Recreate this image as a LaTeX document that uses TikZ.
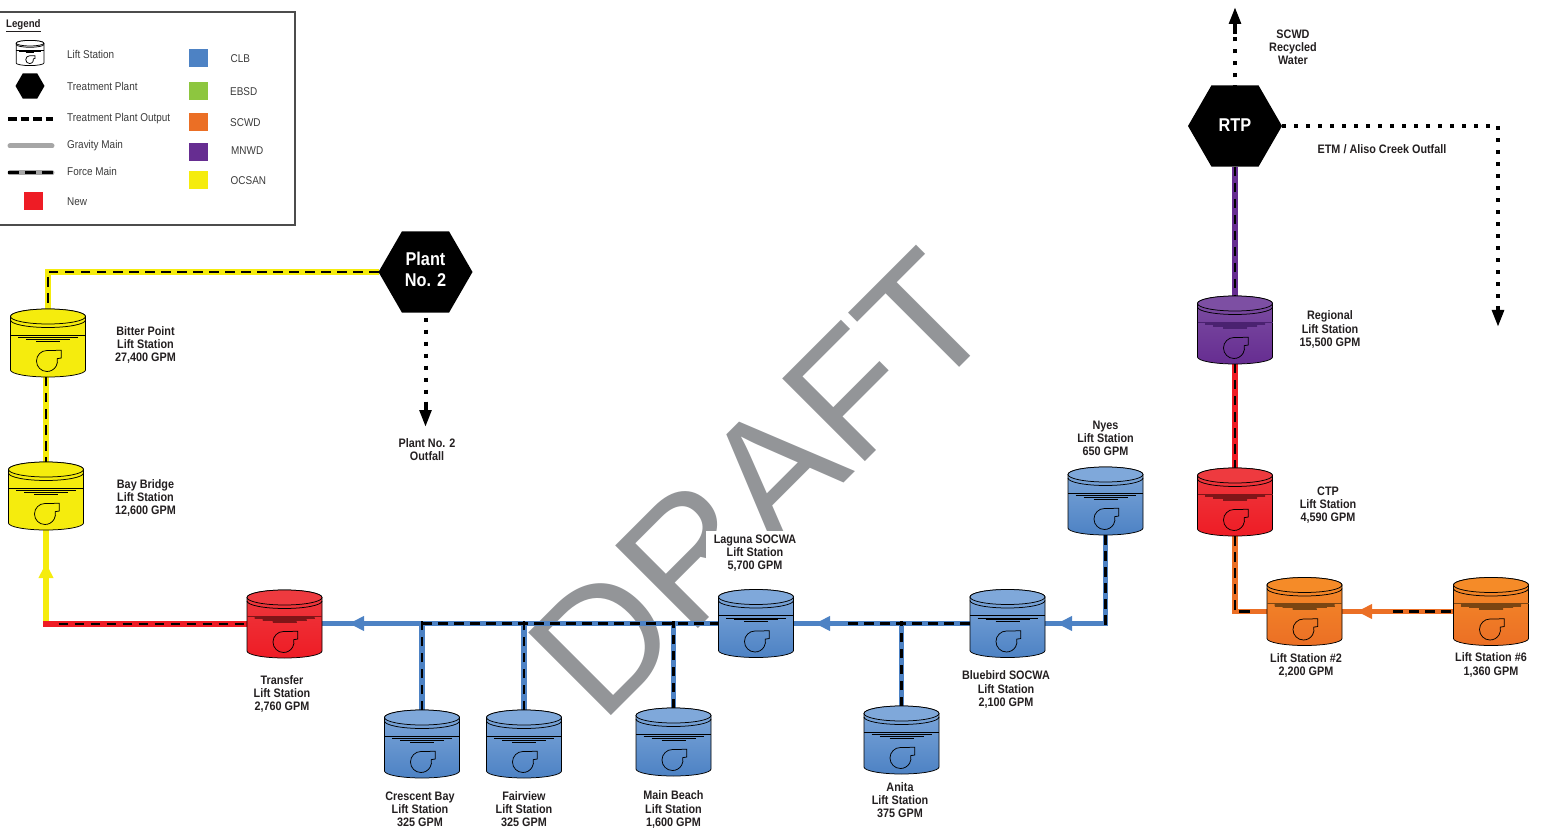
\documentclass[tikz,border=0pt]{standalone}
\usepackage{fontspec}
\setmainfont[FakeStretch=0.88]{Liberation Sans}
\newfontfamily\draftfont{Liberation Sans}
\usetikzlibrary{shapes.geometric,arrows.meta}
\definecolor{pblue}{HTML}{4D82C4}
\definecolor{pyellow}{HTML}{F5EC0D}
\definecolor{pred}{HTML}{EE1C25}
\definecolor{porange}{HTML}{EB6F25}
\definecolor{ppurple}{HTML}{662D91}
\definecolor{pgreen}{HTML}{8DC63F}
\definecolor{bluetop}{HTML}{7FA8DA}
\definecolor{redtop}{HTML}{EE3A3F}
\definecolor{orangetop}{HTML}{F58B28}
\definecolor{purpletop}{HTML}{7D4FA3}
\definecolor{reddark}{HTML}{7F1518}
\definecolor{orangedark}{HTML}{7A4512}
\definecolor{purpledark}{HTML}{4A2270}
\definecolor{draftgray}{HTML}{939598}
\definecolor{inktext}{HTML}{231F20}
\definecolor{legendtext}{HTML}{3A3A3A}
\tikzset{
  pipe/.style={line width=5.8pt,draw=#1},
  pipetip/.style={line width=5.8pt,draw=#1,-{Triangle[length=15pt,width=14pt]}},
  fmdash/.style={line width=2.4pt,draw=black,dash pattern=on 9.5pt off 6.5pt},
  dotline/.style={line width=4pt,draw=black,dash pattern=on 4pt off 8pt},
  stemtip/.style={line width=4pt,draw=black,-{Triangle[length=17pt,width=11.5pt]}},
  stationbox/.style={minimum width=75pt,minimum height=68pt,inner sep=0pt,outer sep=0pt},
  lbl/.style={align=center,inner sep=0pt,text=inktext,font=\bfseries\fontsize{12.3}{13.1}\selectfont},
  legtxt/.style={anchor=west,inner sep=0pt,text height=8pt,text depth=0pt,text=legendtext,font=\fontsize{11.3}{13}\selectfont},
  hexa/.style={regular polygon,regular polygon sides=6,minimum size=94pt,inner sep=0pt,outer sep=0pt,fill=black,text=white,align=center,font=\bfseries\fontsize{18.5}{21}\selectfont},
  swatch/.style={minimum width=19pt,minimum height=18pt,inner sep=0pt,outer sep=0pt}
}
\newcommand\stnart[4]{%
  \path[draw=black,line width=.75pt,top color=#1,bottom color=#2] (-37.5,-26.5) arc[start angle=180,end angle=0,x radius=37.5pt,y radius=7.5pt] -- (37.5,27) arc[start angle=360,end angle=180,x radius=37.5pt,y radius=7pt] -- cycle;
  \draw[line width=.75pt,fill=#1] (0,-26.5) ellipse[x radius=37.5pt,y radius=7.5pt];
  \draw[line width=.75pt] (-37.5,-23) arc[start angle=180,end angle=360,x radius=37.5pt,y radius=7.5pt];
  \fill[#3,fill opacity=#4] (-30,-7.7) -- (30,-7.7) -- (30,-5.3) -- (22,-5.3) -- (22,-3.7) -- (12,-3.7) -- (12,-2) -- (-12,-2) -- (-12,-3.7) -- (-22,-3.7) -- (-22,-5.3) -- (-30,-5.3) -- cycle;
  \draw[#3,line width=.75pt] (-37.5,-7.7) -- (37.5,-7.7) (-30,-5.3) -- (30,-5.3) (-22,-3.7) -- (22,-3.7) (-12,-2) -- (12,-2);
  \draw[line width=.75pt] (9,15.7) -- (13.3,15) -- (13.3,7.3) -- (-1,7.5) arc[start angle=90,end angle=373,radius=10.5pt];
}
\begin{document}
\begin{tikzpicture}[x=1pt,y=-1pt]
\useasboundingbox (0,0) rectangle (1543,834);
% watermark
\node[rotate=45,anchor=base west,inner sep=0pt,text=draftgray,font=\draftfont\fontsize{170}{170}\selectfont] (draft) at (601.6,725.4) {DRAFT};
% station anchors first, so pipes can be drawn beneath the artwork
\node[stationbox] (bitter) at (48,343) {};
\node[stationbox] (bay) at (46,496) {};
\node[stationbox] (transfer) at (284.5,624) {};
\node[stationbox] (crescent) at (422,744) {};
\node[stationbox] (fairview) at (524,744) {};
\node[stationbox] (mainbeach) at (673.5,742) {};
\node[stationbox] (laguna) at (756,623.5) {};
\node[stationbox] (bluebird) at (1007.5,623.5) {};
\node[stationbox] (anita) at (901.5,740) {};
\node[stationbox] (nyes) at (1105.5,501) {};
\node[stationbox] (regional) at (1235,330) {};
\node[stationbox] (ctp) at (1235,502) {};
\node[stationbox] (lstwo) at (1304.5,611.5) {};
\node[stationbox] (lssix) at (1491,611.5) {};
\node[hexa] (plant) at (425.5,272) {\raisebox{2pt}{\begin{tabular}{@{}c@{}}Plant\\No. 2\end{tabular}}};
\node[hexa] (rtp) at (1235,126) {\raisebox{2pt}{RTP}};
% yellow section
\draw[pipe=pyellow] (plant.west) -- (bitter.north |- plant.west) -- (bitter.north);
\draw[fmdash] (plant.west) -- (bitter.north |- plant.west) -- (bitter.north);
\draw[pipe=pyellow] (bay.north |- bitter.south) -- (bay.north);
\draw[fmdash] (bay.north |- bitter.south) -- (bay.north);
\draw[pipe=pyellow] (bay.south) -- (bay.south |- transfer.west);
\coordinate (bayarrowbase) at (46,578);
\coordinate (bayarrowtip) at (46,563);
\draw[pipetip=pyellow] (bayarrowbase) -- (bayarrowtip);
\draw[pipe=pred,line cap=rect] (transfer.west) -- (bay.south |- transfer.west);
\coordinate (reddashstart) at (58.7,624);
\draw[fmdash] (reddashstart) -- (transfer.west);
% blue main
\coordinate (blueonetip) at (349,623.5);
\coordinate (blueonebase) at (364,623.5);
\coordinate (bluetwotip) at (815,623.5);
\coordinate (bluetwobase) at (830,623.5);
\coordinate (bluethreetip) at (1057,623.5);
\coordinate (bluethreebase) at (1072,623.5);
\coordinate (bluedashtwo) at (848,623.5);
\draw[pipe=pblue] (crescent.north) -- (crescent.north |- laguna.west);
\draw[pipe=pblue] (fairview.north) -- (fairview.north |- laguna.west);
\draw[pipe=pblue] (mainbeach.north) -- (mainbeach.north |- laguna.west);
\draw[pipe=pblue] (anita.north) -- (anita.north |- bluebird.west);
\draw[pipe=pblue] (laguna.west) -- (transfer.east |- laguna.west);
\draw[pipetip=pblue] (blueonebase) -- (blueonetip);
\draw[fmdash] (crescent.north |- laguna.west) -- (laguna.west);
\draw[fmdash] (crescent.north) -- ([yshift=3pt]crescent.north |- laguna.west);
\draw[fmdash] (fairview.north) -- ([yshift=3pt]fairview.north |- laguna.west);
\draw[fmdash] (mainbeach.north) -- ([yshift=3pt]mainbeach.north |- laguna.west);
\draw[pipe=pblue] (bluebird.west) -- (laguna.east);
\draw[pipetip=pblue] (bluetwobase) -- (bluetwotip);
\draw[fmdash] (bluedashtwo) -- (bluebird.west);
\draw[fmdash] (anita.north) -- ([yshift=3pt]anita.north |- bluebird.west);
\draw[pipe=pblue,line join=miter] (nyes.south) -- (nyes.south |- bluebird.east) -- (bluebird.east);
\draw[pipetip=pblue] (bluethreebase) -- (bluethreetip);
\draw[fmdash] (nyes.south) -- ([yshift=-3pt]nyes.south |- bluebird.east);
% right column
\draw[pipe=ppurple] (rtp.south) -- (regional.north);
\draw[fmdash] (rtp.south) -- (regional.north);
\draw[pipe=pred] (regional.south) -- (ctp.north);
\draw[fmdash] (regional.south) -- (ctp.north);
\draw[pipe=porange] (ctp.south) -- (ctp.south |- lstwo.west) -- (lstwo.west);
\draw[fmdash] (ctp.south) -- ([yshift=-3pt]ctp.south |- lstwo.west);
\coordinate (lstwodash) at (1239,611.5);
\coordinate (lstwodashend) at (1250,611.5);
\draw[line width=2.4pt] (lstwodash) -- (lstwodashend);
\draw[pipe=porange] (lssix.west) -- (lstwo.east);
\coordinate (orangetip) at (1357,611.5);
\coordinate (orangebase) at (1373,611.5);
\coordinate (orangedash) at (1393,611.5);
\draw[pipetip=porange] (orangebase) -- (orangetip);
\draw[fmdash] (orangedash) -- (lssix.west);
% outputs
\coordinate (plantstem) at (425.5,402);
\coordinate (planttip) at (425.5,427);
\draw[dotline] ([yshift=7pt]plant.south) -- (plantstem);
\draw[stemtip] (plantstem) -- (planttip);
\coordinate (rtpstem) at (1235,34);
\coordinate (rtptip) at (1235,7);
\draw[dotline] ([yshift=-4pt]rtp.north) -- (rtpstem);
\draw[stemtip] (rtpstem) -- (rtptip);
\coordinate (etmstem) at (1498,306);
\coordinate (etmtip) at (1498,327);
\draw[dotline] (rtp.east) -- (etmstem |- rtp.east) -- (etmstem);
\draw[stemtip] (etmstem) -- (etmtip);
% station artwork
\begin{scope}[shift={(48,343)}]\stnart{pyellow}{pyellow}{black}{0}\end{scope}
\begin{scope}[shift={(46,496)}]\stnart{pyellow}{pyellow}{black}{0}\end{scope}
\begin{scope}[shift={(284.5,624)}]\stnart{redtop}{pred}{reddark}{1}\end{scope}
\begin{scope}[shift={(422,744)}]\stnart{bluetop}{pblue}{black}{0}\end{scope}
\begin{scope}[shift={(524,744)}]\stnart{bluetop}{pblue}{black}{0}\end{scope}
\begin{scope}[shift={(673.5,742)}]\stnart{bluetop}{pblue}{black}{0}\end{scope}
\begin{scope}[shift={(756,623.5)}]\stnart{bluetop}{pblue}{black}{0}\end{scope}
\begin{scope}[shift={(1007.5,623.5)}]\stnart{bluetop}{pblue}{black}{0}\end{scope}
\begin{scope}[shift={(901.5,740)}]\stnart{bluetop}{pblue}{black}{0}\end{scope}
\begin{scope}[shift={(1105.5,501)}]\stnart{bluetop}{pblue}{black}{0}\end{scope}
\begin{scope}[shift={(1235,330)}]\stnart{purpletop}{ppurple}{purpledark}{1}\end{scope}
\begin{scope}[shift={(1235,502)}]\stnart{redtop}{pred}{reddark}{1}\end{scope}
\begin{scope}[shift={(1304.5,611.5)}]\stnart{orangetop}{porange}{orangedark}{1}\end{scope}
\begin{scope}[shift={(1491,611.5)}]\stnart{orangetop}{porange}{orangedark}{1}\end{scope}
% labels
\node[lbl] (lbitter) at (145.5,345) {Bitter Point\\Lift Station\\27,400 GPM};
\node[lbl] (lbay) at (145.5,498) {Bay Bridge\\Lift Station\\12,600 GPM};
\node[lbl] (ltransfer) at (282,694) {Transfer\\Lift Station\\2,760 GPM};
\node[lbl] (lcrescent) at (420,809.5) {Crescent Bay\\Lift Station\\325 GPM};
\node[lbl] (lfairview) at (524,809.5) {Fairview\\Lift Station\\325 GPM};
\node[lbl] (lmainbeach) at (673.5,809.5) {Main Beach\\Lift Station\\1,600 GPM};
\node[lbl,fill=white,minimum width=98pt,minimum height=45pt] (llaguna) at (755,553.5) {Laguna SOCWA\\Lift Station\\5,700 GPM};
\node[lbl] (lbluebird) at (1006,689.5) {Bluebird SOCWA\\Lift Station\\2,100 GPM};
\node[lbl] (lanita) at (900,800) {Anita\\Lift Station\\375 GPM};
\node[lbl] (lnyes) at (1105.5,438.5) {Nyes\\Lift Station\\650 GPM};
\node[lbl] (lregional) at (1330,329.5) {Regional\\Lift Station\\15,500 GPM};
\node[lbl] (lctp) at (1328,505.5) {CTP\\Lift Station\\4,590 GPM};
\node[lbl] (llstwo) at (1306,665.5) {Lift Station \#2\\2,200 GPM};
\node[lbl] (llssix) at (1491,665) {Lift Station \#6\\1,360 GPM};
\node[lbl] (lscwd) at (1293,47) {SCWD\\Recycled\\Water};
\node[lbl] (letm) at (1382,149.5) {ETM / Aliso Creek Outfall};
\node[lbl] (loutfall) at (427,450) {Plant No. 2\\Outfall};
% legend
\node[draw=black!70,line width=1.1pt,minimum width=298pt,minimum height=213pt,inner sep=0pt,outer sep=0pt,anchor=north west] (legendbox) at (-3,12) {};
\node[anchor=west,inner sep=0pt,text=inktext,font=\bfseries\fontsize{11}{12}\selectfont] (legendtitle) at (6,26) {\underline{Legend}};
\begin{scope}[shift={(30,53)},scale=.37]\stnart{white}{white}{black}{0}\end{scope}
\node[hexa,minimum size=29pt] (leghex) at (30,86) {};
\coordinate (lineonea) at (8,119);
\coordinate (lineoneb) at (53,119);
\coordinate (linetwoa) at (10,146);
\coordinate (linetwob) at (52,146);
\coordinate (linethreea) at (10,173);
\coordinate (linethreeb) at (52,173);
\draw[line width=3.4pt,dash pattern=on 8.5pt off 4pt,line cap=butt] (lineonea) -- (lineoneb);
\draw[line width=5pt,draw=black!35,line cap=round] (linetwoa) -- (linetwob);
\draw[line width=5pt,draw=black!35,line cap=round] (linethreea) -- (linethreeb);
\coordinate (forcedashstart) at (8,173);
\coordinate (forcedashend) at (54,173);
\draw[line width=3pt,dash pattern=on 11pt off 6pt] (forcedashstart) -- (forcedashend);
\node[swatch,fill=pred] (legnew) at (33.5,201) {};
\node[swatch,fill=pblue] (legclb) at (198.5,58) {};
\node[swatch,fill=pgreen] (legebsd) at (198.5,91) {};
\node[swatch,fill=porange] (legscwd) at (198.5,122) {};
\node[swatch,fill=ppurple] (legmnwd) at (198.5,152) {};
\node[swatch,fill=pyellow] (legocsan) at (198.5,180) {};
\node[legtxt] (tlift) at (67,55) {Lift Station};
\node[legtxt] (ttreat) at (67,87) {Treatment Plant};
\node[legtxt] (tout) at (67,118) {Treatment Plant Output};
\node[legtxt] (tgrav) at (67,145) {Gravity Main};
\node[legtxt] (tforce) at (67,172) {Force Main};
\node[legtxt] (tnew) at (67,202) {New};
\node[legtxt] (tclb) at (230.5,59) {CLB};
\node[legtxt] (tebsd) at (230,92) {EBSD};
\node[legtxt] (tscwd) at (230,123) {SCWD};
\node[legtxt] (tmnwd) at (231,151) {MNWD};
\node[legtxt] (tocsan) at (230.5,181) {OCSAN};
\end{tikzpicture}
\end{document}
